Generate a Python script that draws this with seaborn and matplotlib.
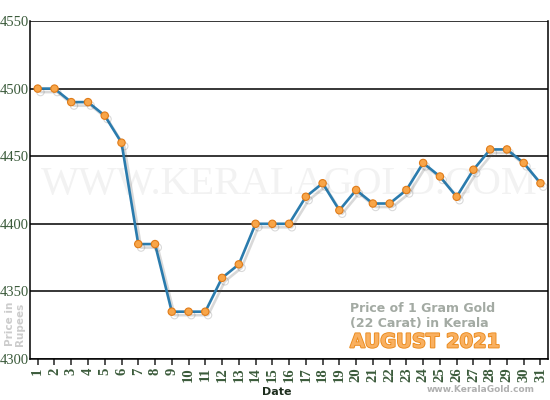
import matplotlib
matplotlib.use("Agg")
import matplotlib.pyplot as plt
import matplotlib.patheffects as pe
import numpy as np
import pandas as pd
import seaborn as sns

days = list(range(1, 32))
price = [4500, 4500, 4490, 4490, 4480, 4460, 4385, 4385, 4335, 4335,
         4335, 4360, 4370, 4400, 4400, 4400, 4420, 4430, 4410, 4425,
         4415, 4415, 4425, 4445, 4435, 4420, 4440, 4455, 4455, 4445,
         4430]
y_ticks = [4300, 4350, 4400, 4450, 4500, 4550]

df = pd.DataFrame({"Date": days, "Price": price})

sns.set_style("white")
plt.rcParams["font.family"] = ["DejaVu Sans"]

fig = plt.figure(figsize=(5.5, 4), dpi=100)
ax = fig.add_axes([30 / 550, 41 / 400, 517.5 / 550, 338 / 400])

label_green = "#3b5b3b"

# watermark
ax.text(0.5, 0.515, "WWW.KERALAGOLD.COM", transform=ax.transAxes,
        ha="center", va="center", fontsize=29, color="#f2f2f2",
        family="Liberation Serif", zorder=0)

for yv in y_ticks:
    ax.axhline(yv, color="black", lw=1.1, zorder=1)

sns.lineplot(data=df, x="Date", y="Price", ax=ax, color="#2a7bad",
             lw=1.9, marker="o", markersize=5.3, markerfacecolor="#f8a548",
             markeredgecolor="#e07b18", markeredgewidth=0.8, zorder=3,
             path_effects=[pe.SimpleLineShadow(offset=(2, -2.5),
                                               shadow_color="#555555",
                                               alpha=0.22),
                           pe.Normal()])

ax.set_xlim(0.54, 31.42)
ax.set_ylim(4300, 4550)
ax.set_xticks(days)
ax.set_xticklabels([str(d) for d in days], rotation=90,
                   family="Liberation Serif", fontsize=10.5,
                   color=label_green, fontweight="bold")
ax.set_yticks(y_ticks)
ax.set_yticklabels([str(v) for v in y_ticks], family="Liberation Serif",
                   fontsize=10.5, color=label_green)
ax.tick_params(axis="x", direction="out", length=4, width=1.2,
               color="#333333", pad=2, bottom=True)
ax.tick_params(axis="y", length=0, pad=1)
for s in ax.spines.values():
    s.set_color("black")
    s.set_linewidth(1.1)
ax.spines["top"].set_visible(False)
ax.set_xlabel("")
ax.set_ylabel("")

fig.text(277 / 550, 1 - 392 / 400, "Date", ha="center", va="center",
         fontsize=8, fontweight="bold", color="#1e2e1e")
fig.text(15 / 550, 1 - 346 / 400, "Price in\nRupees", rotation=90,
         ha="center", va="bottom", ma="left", fontsize=7.5,
         fontweight="bold", color="#cccccc", linespacing=1.0)
fig.text(535 / 550, 1 - 390 / 400, "www.KeralaGold.com", ha="right",
         va="center", fontsize=6.5, fontweight="bold", color="#b0b0b0")

fig.text(350 / 550, 1 - 308 / 400, "Price of 1 Gram Gold", ha="left",
         va="center", fontsize=9, fontweight="bold", color="#a3aaa3")
fig.text(350 / 550, 1 - 323 / 400, "(22 Carat) in Kerala", ha="left",
         va="center", fontsize=9, fontweight="bold", color="#a3aaa3")
fig.text(350 / 550, 1 - 342 / 400, "AUGUST 2021", ha="left", va="center",
         fontsize=14, fontweight="bold", color="#f9b060",
         path_effects=[pe.withStroke(linewidth=1.3, foreground="#ea8a1c")])

fig.savefig("out.png", dpi=100)
